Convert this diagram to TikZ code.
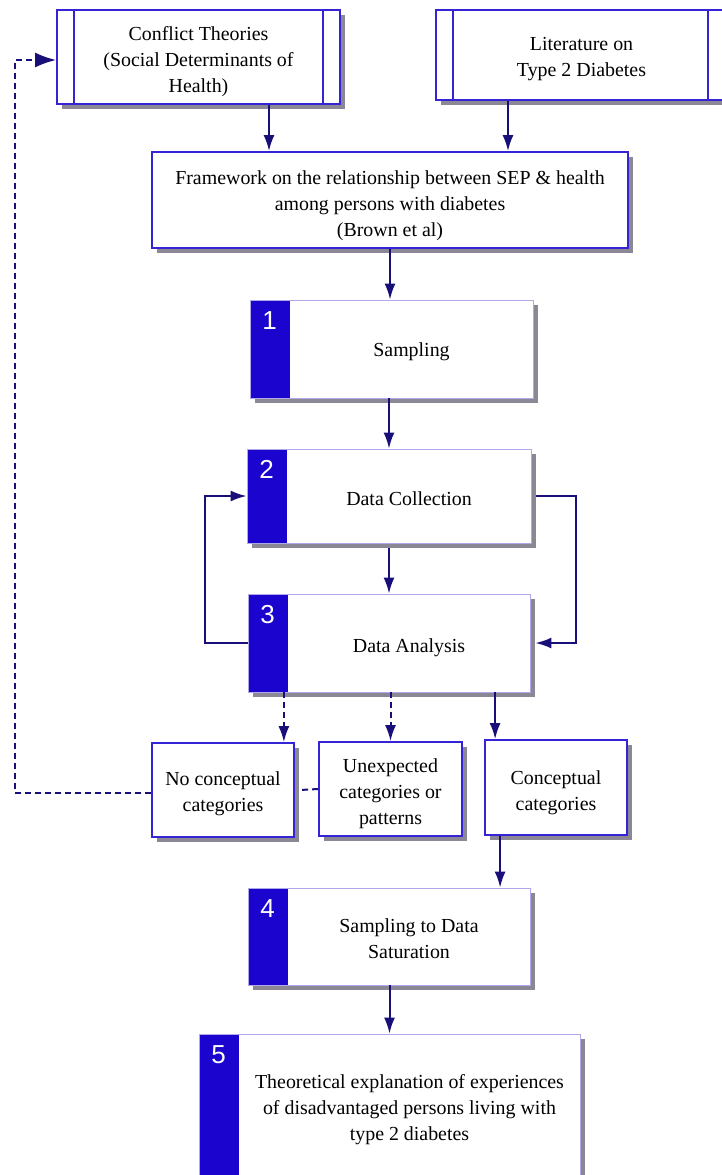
\documentclass[tikz,border=0pt]{standalone}
\usepackage{fontspec}
\setmainfont{Liberation Serif}
\newfontfamily\numfont{Liberation Sans}
\usetikzlibrary{arrows.meta,shadows}

\definecolor{boxblue}{RGB}{52,36,214}
\definecolor{barblue}{RGB}{26,4,206}
\definecolor{arrownavy}{RGB}{24,16,120}
\definecolor{shadowgray}{RGB}{140,135,148}
\definecolor{lavender}{RGB}{176,168,232}

\begin{document}
\begin{tikzpicture}[x=1pt,y=-1pt,
  font=\fontsize{19.9}{26}\selectfont,
  shade/.style={drop shadow={shadow xshift=5pt,shadow yshift=-5pt,fill=shadowgray,opacity=1}},
  plainbox/.style={draw=boxblue,line width=1.8pt,fill=white,shade,inner sep=0pt},
  sourcebox/.style={plainbox,
    path picture={
      \draw[boxblue,line width=1.8pt]
        ([xshift=17pt]path picture bounding box.north west) -- ([xshift=17pt]path picture bounding box.south west)
        ([xshift=-17pt]path picture bounding box.north east) -- ([xshift=-17pt]path picture bounding box.south east);}},
  stagebox/.style={draw=lavender,line width=0.8pt,fill=white,shade,inner sep=0pt,
    path picture={
      \fill[barblue] (path picture bounding box.north west) rectangle ([xshift=40pt]path picture bounding box.south west);}},
  stagenum/.style={text=white,font=\numfont\fontsize{26}{26}\selectfont,inner sep=0pt},
  boxtext/.style={align=center,inner sep=0pt},
  flow/.style={draw=arrownavy,line width=2pt,-{Latex[length=16pt,width=11pt]}},
  tentative/.style={flow,dash pattern=on 6pt off 4pt},
  tentativeline/.style={draw=arrownavy,line width=2pt,dash pattern=on 6pt off 4pt},
  bigtip/.style={-{Latex[length=21pt,width=15pt]}},
]
\useasboundingbox (0,0) rectangle (722,1175);
\clip (0,0) rectangle (722,1175);

% source boxes
\node[sourcebox,minimum width=283pt,minimum height=94pt] (ct) at (198.5,57) {};
\node[sourcebox,minimum width=289pt,minimum height=90pt] (lit) at (580.5,55) {};
\node[boxtext] (ctt) at ([yshift=-5pt]ct.center) {Conflict Theories\\(Social Determinants of\\Health)};
\node[boxtext] (litt) at ([xshift=1pt,yshift=-4pt]lit.center) {Literature on\\Type 2 Diabetes};

% framework
\node[plainbox,minimum width=476pt,minimum height=96pt] (fw) at (390,200) {};
\node[boxtext] (fwt) at ([yshift=-6pt]fw.center)
  {Framework on the relationship between SEP \& health\\among persons with diabetes\\(Brown et al)};

% numbered stages
\node[stagebox,minimum width=283pt,minimum height=98pt] (s1) at (391.5,349) {};
\node[stagebox,minimum width=284pt,minimum height=94pt] (s2) at (389,496) {};
\node[stagebox,minimum width=282pt,minimum height=98pt] (s3) at (389,643) {};
\node[stagebox,minimum width=282pt,minimum height=97pt] (s4) at (389,936.5) {};
\node[stagebox,minimum width=381pt,minimum height=152pt] (s5) at (389.5,1110) {};

\node[stagenum] (n1) at ([xshift=20pt,yshift=-21pt]s1.north west) {1};
\node[stagenum] (n2) at ([xshift=20pt,yshift=-21pt]s2.north west) {2};
\node[stagenum] (n3) at ([xshift=20pt,yshift=-21pt]s3.north west) {3};
\node[stagenum] (n4) at ([xshift=20pt,yshift=-21pt]s4.north west) {4};
\node[stagenum] (n5) at ([xshift=20pt,yshift=-21pt]s5.north west) {5};

\node[boxtext] (t1) at ([xshift=20pt,yshift=-3pt]s1.center) {Sampling};
\node[boxtext] (t2) at ([xshift=20pt,yshift=-3pt]s2.center) {Data Collection};
\node[boxtext] (t3) at ([xshift=20pt,yshift=-5pt]s3.center) {Data Analysis};
\node[boxtext] (t4) at ([xshift=20pt,yshift=-2pt]s4.center) {Sampling to Data\\Saturation};
\node[boxtext] (t5) at ([xshift=20pt,yshift=0pt]s5.center)
  {Theoretical explanation of experiences\\of disadvantaged persons living with\\type 2 diabetes};

% outcome boxes
\node[plainbox,minimum width=142pt,minimum height=94pt] (nc) at (223,790) {};
\node[plainbox,minimum width=143pt,minimum height=94pt] (ue) at (390.5,789) {};
\node[plainbox,minimum width=142pt,minimum height=95pt] (cc) at (556,787.5) {};
\node[boxtext] (nct) at ([yshift=-3.5pt]nc.center) {No conceptual\\categories};
\node[boxtext] (uet) at ([yshift=-5pt]ue.center) {Unexpected\\categories or\\patterns};
\node[boxtext] (cct) at ([yshift=-5pt]cc.center) {Conceptual\\categories};

% connectors
\coordinate (ret) at (15,0);
\draw[flow] ([xshift=70.5pt]ct.south) -- ([xshift=70.5pt]ct.south |- fw.north);
\draw[flow] ([xshift=-72.5pt]lit.south) -- ([xshift=-72.5pt]lit.south |- fw.north);
\draw[flow] (fw.south) -- (fw.south |- s1.north);
\draw[flow] (s1.south -| s2.north) -- (s2.north);
\draw[flow] ([yshift=-5pt]s2.south) -- (s3.north);
\draw[flow] (s3.west) -- ++(-43pt,0) |- (s2.west);
\draw[flow] ([xshift=5pt]s2.east) -- ++(40pt,0) |- ([xshift=5pt]s3.east);
\draw[tentative] ([xshift=-11pt]nc.north east |- s3.south) -- ([xshift=-11pt]nc.north east);
\draw[tentative] (ue.north |- s3.south) -- (ue.north);
\draw[flow] ([xshift=11pt]cc.north west |- s3.south) -- ([xshift=11pt]cc.north west);
\draw[flow] ([xshift=16pt]cc.south west) -- ([xshift=16pt]cc.south west |- s4.north);
\draw[flow] (s4.south -| s5.north) -- (s5.north);
\draw[tentativeline] (ue.west) -- ([xshift=5pt]nc.east);
\draw[tentative,bigtip] ([yshift=-3pt]nc.west) -- ([yshift=-3pt]nc.west -| ret) |- ([yshift=-3pt]ct.west);
\end{tikzpicture}
\end{document}
